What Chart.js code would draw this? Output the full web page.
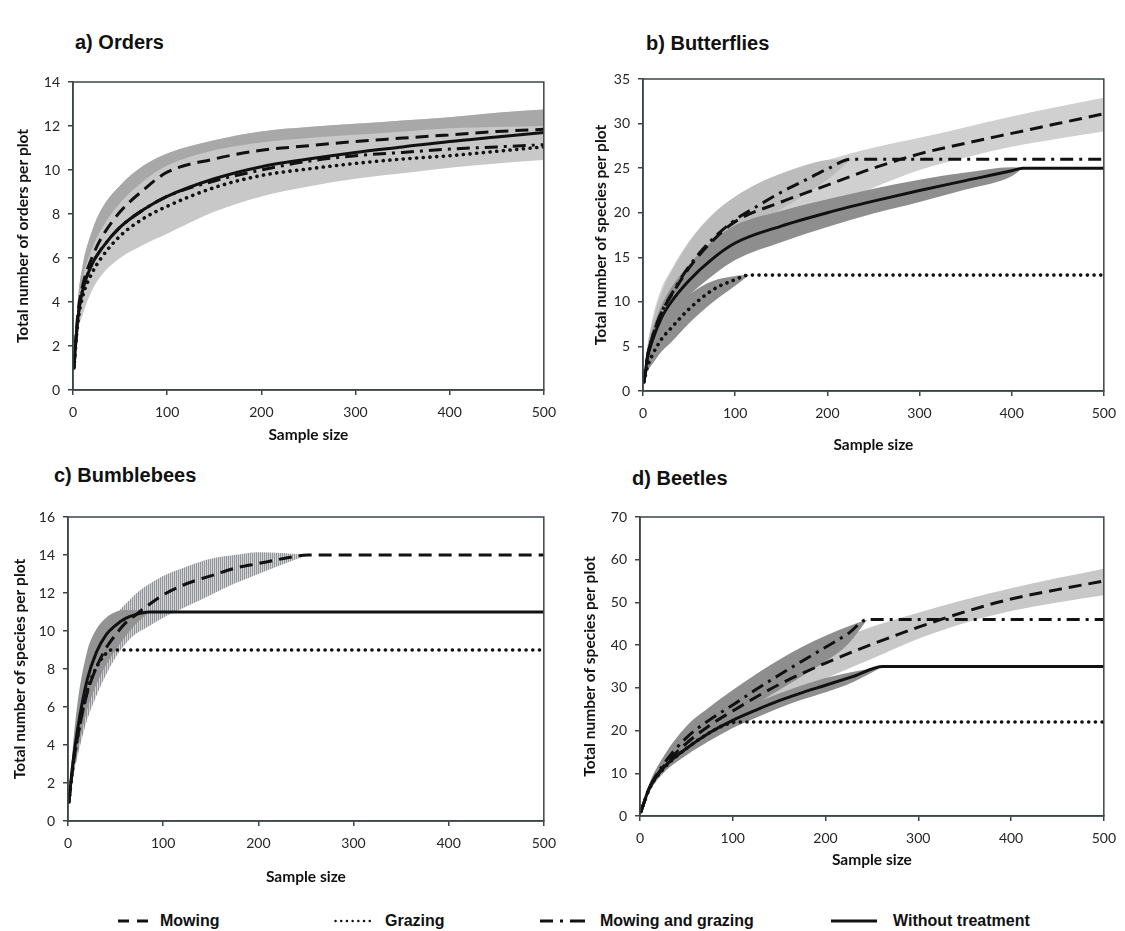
<!DOCTYPE html>
<html>
<head>
<meta charset="utf-8">
<script src="https://cdn.jsdelivr.net/npm/chart.js@4"></script>
<style>
  body { margin: 0; background: #fff; }
  #wrap { position: relative; width: 1125px; height: 931px; overflow: hidden; background: #fff; }
  #wrap canvas { position: absolute; }
  .ttl { position: absolute; font: bold 20px "Liberation Sans", Arial, sans-serif; line-height: 24px; color: #111; white-space: nowrap; }
  .legtxt { position: absolute; top: 911px; font: bold 16px "Liberation Sans Narrow", "Arial Narrow", "Liberation Sans", sans-serif; line-height: 20px; color: #111; white-space: nowrap; }
  .legsvg { position: absolute; top: 911px; }
</style>
</head>
<body>
<div id="wrap">
  <div class="ttl" style="left:75px; top:30px">a) Orders</div>
  <div class="ttl" style="left:646px; top:31px">b) Butterflies</div>
  <div class="ttl" style="left:54px; top:463px">c) Bumblebees</div>
  <div class="ttl" style="left:632px; top:466px">d) Beetles</div>

  <canvas id="chartA"></canvas>
  <canvas id="chartB"></canvas>
  <canvas id="chartC"></canvas>
  <canvas id="chartD"></canvas>

  <svg class="legsvg" style="left:118px" width="30" height="20"><line x1="0" y1="10" x2="30" y2="10" stroke="#111" stroke-width="3" stroke-dasharray="11 8"/></svg>
  <div class="legtxt" style="left:160px">Mowing</div>
  <svg class="legsvg" style="left:334px" width="37" height="20"><line x1="1.5" y1="10" x2="36" y2="10" stroke="#111" stroke-width="2.4" stroke-linecap="round" stroke-dasharray="0.1 5.6"/></svg>
  <div class="legtxt" style="left:385px">Grazing</div>
  <svg class="legsvg" style="left:540px" width="45" height="20"><line x1="0" y1="10" x2="45" y2="10" stroke="#111" stroke-width="3" stroke-dasharray="13 7 3 7 15"/></svg>
  <div class="legtxt" style="left:600px">Mowing and grazing</div>
  <svg class="legsvg" style="left:831px" width="46" height="20"><line x1="0" y1="10" x2="46" y2="10" stroke="#111" stroke-width="3"/></svg>
  <div class="legtxt" style="left:893px">Without treatment</div>
</div>

<script>
// ---------- a) Orders ----------
const aX        = [1, 5, 10, 20, 30, 50, 75, 100, 150, 200, 250, 300, 350, 400, 450, 500];
const aMowing   = [1, 3.4, 4.7, 6.0, 6.9, 8.1, 9.1, 9.9, 10.5, 10.9, 11.1, 11.3, 11.45, 11.6, 11.75, 11.85];
const aGrazing  = [1, 3.0, 4.2, 5.3, 6.0, 7.0, 7.8, 8.35, 9.2, 9.75, 10.05, 10.3, 10.5, 10.65, 10.85, 11.05];
const aMowGraz  = [1, 3.2, 4.5, 5.7, 6.4, 7.4, 8.2, 8.8, 9.5, 10.0, 10.4, 10.65, 10.8, 10.95, 11.05, 11.15];
const aWithout  = [1, 3.2, 4.5, 5.7, 6.4, 7.4, 8.2, 8.8, 9.6, 10.15, 10.5, 10.8, 11.05, 11.3, 11.5, 11.7];
const aBandHigh = [1, 4.0, 5.6, 7.2, 8.2, 9.3, 10.2, 10.75, 11.35, 11.75, 11.95, 12.1, 12.25, 12.4, 12.6, 12.75];
const aBandMid  = [1, 3.6, 5.0, 6.4, 7.3, 8.5, 9.5, 10.2, 10.9, 11.25, 11.45, 11.6, 11.75, 11.9, 11.95, 12.0];
const aBandLow  = [1, 2.6, 3.4, 4.5, 5.2, 6.0, 6.6, 7.1, 8.1, 8.8, 9.25, 9.6, 9.85, 10.1, 10.3, 10.45];

// ---------- b) Butterflies ----------
const bMowX      = [1, 5, 10, 20, 30, 50, 75, 100, 150, 200, 250, 300, 350, 400, 450, 500];
const bMowing    = [1, 4.0, 6.0, 8.8, 10.6, 13.8, 16.8, 19.0, 21.2, 23.1, 25.0, 26.6, 27.8, 28.9, 30.0, 31.1];
const bMowHigh   = [1, 5.0, 8.0, 11.5, 13.5, 16.8, 19.8, 21.8, 24.0, 25.9, 27.3, 28.4, 29.6, 30.8, 31.9, 32.9];
const bMowLow    = [1, 3.0, 4.5, 6.5, 8.0, 10.8, 13.5, 15.8, 18.4, 20.5, 22.8, 24.8, 26.2, 27.4, 28.3, 29.1];
const bMGX       = [1, 5, 10, 20, 30, 50, 75, 100, 125, 150, 175, 200, 226, 500];
const bMowGraz   = [1, 4.0, 6.0, 8.8, 10.7, 14.0, 17.0, 19.2, 20.8, 22.3, 23.6, 24.9, 26, 26];
const bMGBandX   = [1, 5, 10, 20, 30, 50, 75, 100, 125, 150, 175, 200, 226];
const bMGHigh    = [1, 5.2, 7.6, 11.0, 13.2, 16.7, 19.7, 21.8, 23.3, 24.4, 25.3, 25.9, 26];
const bMGLow     = [1, 3.0, 4.6, 6.8, 8.4, 11.5, 14.5, 16.8, 18.8, 20.4, 22.0, 23.7, 26];
const bWithoutX  = [1, 5, 10, 20, 30, 50, 75, 100, 150, 200, 250, 300, 350, 400, 412, 500];
const bWithout   = [1, 3.8, 5.6, 8.2, 9.9, 12.4, 14.8, 16.6, 18.5, 20.0, 21.3, 22.5, 23.6, 24.7, 25, 25];
const bWithBandX = [1, 5, 10, 20, 30, 50, 75, 100, 150, 200, 250, 300, 350, 400, 412];
const bWithHigh  = [1, 4.6, 6.8, 9.6, 11.5, 14.2, 16.8, 18.6, 20.2, 21.5, 22.7, 23.7, 24.5, 25.1, 25];
const bWithLow   = [1, 3.0, 4.5, 6.8, 8.3, 10.7, 12.9, 14.7, 16.7, 18.4, 19.9, 21.2, 22.6, 24.1, 25];
const bGrazX     = [1, 5, 10, 20, 30, 50, 75, 100, 115, 500];
const bGrazing   = [1, 2.8, 4.0, 5.8, 7.0, 9.2, 11.3, 12.5, 13, 13];
const bGrazBandX = [1, 5, 10, 20, 30, 50, 75, 100, 115];
const bGrazHigh  = [1, 3.6, 5.2, 7.4, 8.8, 10.8, 12.3, 12.9, 13];
const bGrazLow   = [1, 2.2, 3.0, 4.4, 5.4, 7.6, 9.9, 11.8, 13];

// ---------- c) Bumblebees ----------
const cMowX      = [1, 5, 10, 20, 30, 40, 50, 60, 70, 80, 100, 125, 150, 175, 200, 225, 252, 500];
const cMowing    = [1, 2.8, 4.4, 6.7, 8.1, 9.1, 9.8, 10.4, 10.8, 11.2, 11.9, 12.5, 12.9, 13.3, 13.55, 13.8, 14, 14];
const cMowBandX  = [1, 5, 10, 20, 30, 40, 50, 60, 70, 80, 100, 125, 150, 175, 200, 225, 252];
const cMowHigh   = [1, 3.5, 5.5, 8.0, 9.4, 10.3, 10.9, 11.4, 11.9, 12.3, 12.9, 13.4, 13.8, 14.0, 14.15, 14.1, 14];
const cMowLow    = [1, 2.2, 3.4, 5.3, 6.6, 7.7, 8.6, 9.3, 9.8, 10.1, 10.7, 11.3, 11.9, 12.5, 13.0, 13.5, 14];
const cWithoutX  = [1, 5, 10, 20, 30, 40, 50, 60, 70, 85, 500];
const cWithout   = [1, 3.0, 4.8, 7.4, 8.9, 9.8, 10.3, 10.65, 10.85, 11, 11];
const cWithBandX = [1, 5, 10, 20, 30, 40, 50, 60, 70, 85];
const cWithHigh  = [1, 3.8, 6.2, 8.9, 10.1, 10.7, 11.0, 11.1, 11.1, 11];
const cWithLow   = [1, 2.3, 3.6, 5.8, 7.2, 8.2, 9.0, 9.7, 10.3, 11];
const cGrazX     = [1, 5, 10, 20, 30, 38, 45, 500];
const cGrazing   = [1, 2.8, 4.4, 6.8, 8.1, 8.7, 9, 9];

// ---------- d) Beetles ----------
const dMowX      = [1, 10, 25, 50, 75, 100, 150, 200, 250, 300, 350, 400, 450, 500];
const dMowing    = [1, 6.5, 11.5, 17, 21.2, 24.6, 30.8, 35.8, 40.2, 44.2, 47.8, 50.8, 53, 55];
const dMowHigh   = [1, 7.5, 13, 19.5, 24.5, 28, 34.8, 40, 44.3, 47.6, 50.6, 53.3, 55.7, 57.9];
const dMowLow    = [1, 5.5, 10, 15, 18.8, 21.8, 27.2, 32.2, 36.8, 41.5, 45.2, 48.0, 50, 51.7];
const dMGX       = [1, 10, 25, 50, 75, 100, 125, 150, 175, 200, 225, 245, 500];
const dMowGraz   = [1, 6.5, 12, 18.3, 22.5, 26, 29.6, 33, 36.3, 39.5, 42.8, 46, 46];
const dMGBandX   = [1, 10, 25, 50, 75, 100, 125, 150, 175, 200, 225, 245];
const dMGHigh    = [1, 7.5, 13.8, 21, 25.5, 29.5, 33.2, 36.6, 39.6, 42.2, 44.4, 46];
const dMGLow     = [1, 5.6, 10.5, 16.2, 20, 23.2, 26.3, 29.5, 32.8, 36.2, 40.4, 46];
const dWithoutX  = [1, 10, 25, 50, 75, 100, 125, 150, 175, 200, 230, 262, 500];
const dWithout   = [1, 6.5, 11.2, 15.8, 19.5, 22.4, 24.8, 27, 28.9, 30.6, 32.7, 35, 35];
const dWithBandX = [1, 10, 25, 50, 75, 100, 125, 150, 175, 200, 230, 262];
const dWithHigh  = [1, 7.2, 12.5, 17.6, 21.5, 24.3, 26.6, 28.7, 30.6, 32.3, 33.8, 35];
const dWithLow   = [1, 5.8, 10, 14.2, 17.6, 20.6, 23.0, 25.3, 27.3, 29.0, 31.4, 35];
const dGrazX     = [1, 10, 25, 50, 75, 90, 105, 500];
const dGrazing   = [1, 6.3, 11, 15.8, 19.5, 21.2, 22, 22];

// ---------- drawing ----------
const INK = '#111';
const AXIS = '#3d4549';
const TICKFONT = { family: 'Lato, "Open Sans", sans-serif', size: 14 };
const TITLEFONT = { family: 'Lato, "Open Sans", sans-serif', size: 15.5, weight: 'bold', lineHeight: 1.2 };

const DASH = { dash: [13, 7], dot: [0.1, 6.6], dashdot: [13, 6, 3, 6], solid: [] };

function pts(xs, ys) {
  return xs.map((x, i) => ({ x: x, y: ys[i] }));
}

function line(label, xs, ys, style) {
  return {
    label: label,
    data: pts(xs, ys),
    borderColor: INK,
    borderWidth: style === 'dot' ? 3.6 : 3,
    borderDash: DASH[style],
    borderCapStyle: style === 'dot' ? 'round' : 'butt',
    pointRadius: 0,
    fill: false,
    order: 0,
    cubicInterpolationMode: 'monotone'
  };
}

// lower edge first, upper edge fills down to it
function band(xs, lo, hi, color, order) {
  const common = { pointRadius: 0, borderWidth: 0, borderColor: 'rgba(0,0,0,0)', order: order, cubicInterpolationMode: 'monotone' };
  return [
    Object.assign({ label: 'lo', data: pts(xs, lo), fill: false }, common),
    Object.assign({ label: 'hi', data: pts(xs, hi), fill: '-1', backgroundColor: color }, common)
  ];
}

// vertical hatch used for the bumblebee mowing band
function hatch() {
  const c = document.createElement('canvas');
  c.width = 2; c.height = 4;
  const g = c.getContext('2d');
  g.fillStyle = '#d2d4d8'; g.fillRect(0, 0, 2, 4);
  g.fillStyle = '#929497'; g.fillRect(0, 0, 1, 4);
  return g.createPattern(c, 'repeat');
}

const frame = {
  id: 'frame',
  afterDraw(chart) {
    const a = chart.chartArea, ctx = chart.ctx;
    ctx.save();
    ctx.strokeStyle = AXIS;
    ctx.lineWidth = 1.5;
    ctx.strokeRect(a.left, a.top, a.right - a.left, a.bottom - a.top);
    ctx.restore();
  }
};

const GEOM = {
  chartA: { left: 0,   top: 60,  w: 565, h: 390, yw: 73, xh: 60, pt: 22, pr: 15, yPad: 14, xPad: 6 },
  chartB: { left: 565, top: 57,  w: 560, h: 398, yw: 78, xh: 64, pt: 22, pr: 13, yPad: 27, xPad: 1 },
  chartC: { left: 0,   top: 495, w: 565, h: 395, yw: 68, xh: 69, pt: 22, pr: 17, yPad: 11, xPad: 4 },
  chartD: { left: 565, top: 495, w: 560, h: 395, yw: 75, xh: 74, pt: 22, pr: 13, yPad: 16, xPad: 21 }
};

function draw(id, yMax, yStep, yTitle, datasets) {
  const g = GEOM[id];
  const cv = document.getElementById(id);
  cv.width = g.w; cv.height = g.h;
  cv.style.left = g.left + 'px'; cv.style.top = g.top + 'px';
  cv.style.width = g.w + 'px'; cv.style.height = g.h + 'px';

  const axisCommon = {
    type: 'linear',
    grid: { drawOnChartArea: false, drawTicks: true, tickLength: 5, color: AXIS, lineWidth: 1.5 },
    border: { display: true, color: AXIS, width: 1.5 }
  };

  return new Chart(cv, {
    type: 'line',
    data: { datasets: datasets },
    options: {
      responsive: false,
      animation: false,
      devicePixelRatio: 1,
      layout: { padding: { top: g.pt, right: g.pr, left: 0, bottom: 0 } },
      plugins: { legend: { display: false }, tooltip: { enabled: false }, title: { display: false } },
      scales: {
        x: Object.assign({}, axisCommon, {
          min: 0, max: 500,
          ticks: { stepSize: 100, padding: 9, color: '#262626', font: TICKFONT, maxRotation: 0 },
          title: { display: true, text: 'Sample size', color: INK, font: TITLEFONT, padding: { top: 0, bottom: g.xPad } },
          afterFit: s => { s.height = g.xh; }
        }),
        y: Object.assign({}, axisCommon, {
          min: 0, max: yMax,
          ticks: { stepSize: yStep, padding: 8, color: '#262626', font: TICKFONT },
          title: { display: true, text: yTitle, color: INK, font: TITLEFONT, padding: { top: g.yPad, bottom: 0 } },
          afterFit: s => { s.width = g.yw; }
        })
      }
    },
    plugins: [frame]
  });
}

const LIGHT = '#c8c8c8';
const MID = '#a8a8a8';
const DARK = '#8e8e8e';

draw('chartA', 14, 2, 'Total number of orders per plot', [
  line('Mowing', aX, aMowing, 'dash'),
  line('Grazing', aX, aGrazing, 'dot'),
  line('Mowing and grazing', aX, aMowGraz, 'dashdot'),
  line('Without treatment', aX, aWithout, 'solid'),
  ...band(aX, aBandMid, aBandHigh, MID, 2),
  ...band(aX, aBandLow, aBandHigh, LIGHT, 3)
]);

draw('chartB', 35, 5, 'Total number of species per plot', [
  line('Mowing', bMowX, bMowing, 'dash'),
  line('Grazing', bGrazX, bGrazing, 'dot'),
  line('Mowing and grazing', bMGX, bMowGraz, 'dashdot'),
  line('Without treatment', bWithoutX, bWithout, 'solid'),
  ...band(bGrazBandX, bGrazLow, bGrazHigh, DARK, 1),
  ...band(bWithBandX, bWithLow, bWithHigh, DARK, 2),
  ...band(bMGBandX, bMGLow, bMGHigh, '#bcbcbc', 3),
  ...band(bMowX, bMowLow, bMowHigh, '#d0d0d0', 4)
]);

draw('chartC', 16, 2, 'Total number of species per plot', [
  line('Mowing', cMowX, cMowing, 'dash'),
  line('Grazing', cGrazX, cGrazing, 'dot'),
  line('Without treatment', cWithoutX, cWithout, 'solid'),
  ...band(cWithBandX, cWithLow, cWithHigh, '#939393', 1),
  ...band(cMowBandX, cMowLow, cMowHigh, hatch(), 2)
]);

draw('chartD', 70, 10, 'Total number of species per plot', [
  line('Mowing', dMowX, dMowing, 'dash'),
  line('Grazing', dGrazX, dGrazing, 'dot'),
  line('Mowing and grazing', dMGX, dMowGraz, 'dashdot'),
  line('Without treatment', dWithoutX, dWithout, 'solid'),
  ...band(dWithBandX, dWithLow, dWithHigh, DARK, 1),
  ...band(dMGBandX, dMGLow, dMGHigh, DARK, 2),
  ...band(dMowX, dMowLow, dMowHigh, LIGHT, 3)
]);
</script>
</body>
</html>
